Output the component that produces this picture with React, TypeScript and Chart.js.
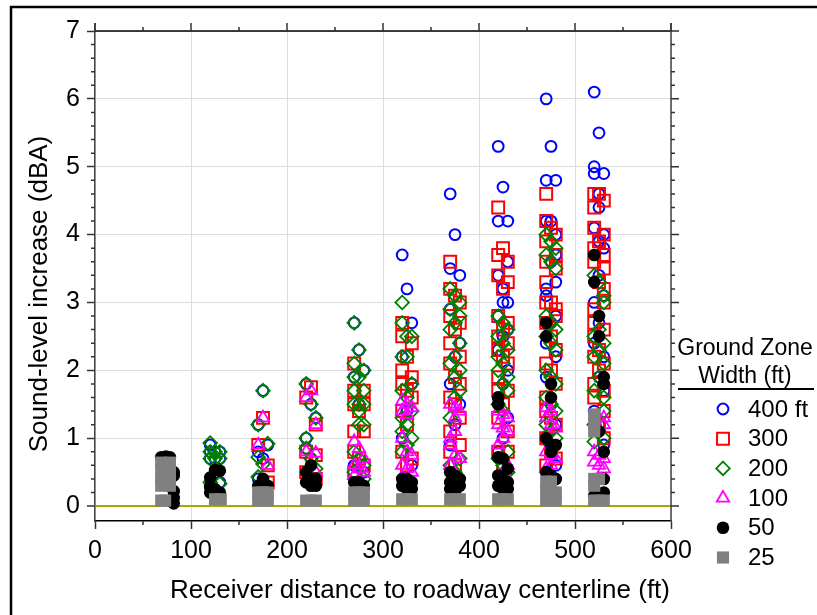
import { useEffect, useRef } from 'react';
import { Chart, registerables } from 'chart.js';

Chart.register(...registerables);

// ---------- data ----------
const xTicks = [0, 100, 200, 300, 400, 500, 600];
const yTicks = [0, 1, 2, 3, 4, 5, 6, 7];
const xMinorTicks = [50, 150, 250, 350, 450, 550];
const yMinorTicks = [
  0.2, 0.4, 0.6, 0.8, 1.2, 1.4, 1.6, 1.8, 2.2, 2.4, 2.6, 2.8, 3.2, 3.4, 3.6, 3.8,
  4.2, 4.4, 4.6, 4.8, 5.2, 5.4, 5.6, 5.8, 6.2, 6.4, 6.6, 6.8,
];

const xTitle = 'Receiver distance to roadway centerline (ft)';
const yTitle = 'Sound-level increase (dBA)';
const legendTitle = ['Ground Zone', 'Width (ft)'];
const seriesLabels = ['400 ft', '300', '200', '100', '50', '25'];

// [receiver distance (ft), sound-level increase (dBA)]
const zone400: [number, number][] = [
  [120, 0.9], [120, 0.8], [125, 0.8], [130, 0.8], [120, 0.7], [125, 0.7], [130, 0.7], [130, 0.35], [120, 0.3],
  [175, 1.7], [170, 1.2], [180, 0.9], [170, 0.8], [175, 0.7], [170, 0.4],
  [220, 1.8], [225, 1.5], [230, 1.3], [220, 1.0], [220, 0.85], [225, 0.7],
  [270, 2.7], [275, 2.3], [280, 2.0], [270, 1.9], [275, 1.5], [270, 0.6], [280, 0.5],
  [320, 3.7], [325, 3.2], [330, 2.7], [320, 2.2], [330, 1.8], [325, 1.4], [320, 1.0], [330, 0.6],
  [370, 4.6], [375, 4.0], [370, 3.5], [380, 3.4], [370, 2.9], [380, 2.4], [375, 2.2], [370, 1.8], [380, 1.5], [375, 1.2], [370, 0.9],
  [420, 5.3], [425, 4.7], [420, 4.2], [430, 4.2], [430, 3.6], [420, 3.4], [425, 3.2], [425, 3.0], [430, 3.0], [420, 2.8],
  [430, 2.6], [425, 2.5], [420, 2.3], [430, 2.0], [425, 1.8], [420, 1.6], [430, 1.3], [425, 1.0], [420, 0.8],
  [470, 6.0], [475, 5.3], [470, 4.8], [480, 4.8], [470, 4.2], [475, 4.2], [480, 4.0], [480, 3.7], [475, 3.6], [480, 3.3],
  [470, 3.2], [470, 3.1], [480, 2.8], [475, 2.7], [470, 2.4], [480, 2.2], [470, 1.9], [475, 1.5], [480, 1.2], [470, 1.0], [475, 0.8], [480, 0.6],
  [520, 6.1], [525, 5.5], [520, 5.0], [520, 4.9], [530, 4.9], [525, 4.6], [525, 4.4], [520, 4.1], [530, 4.0], [525, 3.9],
  [530, 3.8], [525, 3.4], [530, 3.1], [520, 3.0], [525, 2.7], [520, 2.4], [530, 2.2], [525, 1.9], [530, 1.7], [520, 1.4], [525, 1.2], [530, 0.9],
];

const zone300: [number, number][] = [
  [175, 1.3], [170, 0.9], [180, 0.6], [180, 0.35],
  [225, 1.75], [220, 1.6], [230, 1.2], [220, 0.8], [230, 0.75], [220, 0.5], [230, 0.4],
  [270, 2.1], [270, 1.7], [280, 1.7], [270, 1.5], [280, 1.5], [275, 1.4], [270, 1.1], [280, 1.1], [270, 0.8], [275, 0.7], [280, 0.6], [270, 0.5],
  [320, 2.7], [320, 2.5], [330, 2.4], [325, 2.2], [320, 2.0], [330, 1.9], [320, 1.8], [325, 1.7], [330, 1.6], [320, 1.4], [325, 1.2], [320, 0.8], [330, 0.7], [325, 0.6],
  [370, 3.6], [370, 3.2], [375, 3.1], [380, 3.0], [370, 2.8], [380, 2.7], [375, 2.6], [370, 2.4], [380, 2.2], [370, 2.1],
  [375, 1.9], [380, 1.8], [370, 1.6], [375, 1.5], [380, 1.3], [370, 1.1], [380, 0.9], [370, 0.8], [375, 0.6],
  [420, 4.4], [425, 3.8], [420, 3.7], [430, 3.6], [420, 3.4], [430, 3.3], [425, 3.2], [420, 2.8], [430, 2.7], [425, 2.6], [420, 2.5], [430, 2.4],
  [420, 2.3], [425, 2.2], [430, 2.1], [420, 1.9], [420, 1.7], [430, 1.7], [425, 1.5], [420, 1.3], [430, 1.1], [420, 0.8], [430, 0.8], [425, 0.6],
  [470, 4.6], [470, 4.2], [475, 4.1], [480, 4.0], [470, 3.9], [480, 3.7], [470, 3.6], [480, 3.5], [470, 3.3], [470, 3.0], [475, 3.0], [480, 2.9], [480, 2.8], [470, 2.7],
  [475, 2.5], [480, 2.3], [470, 2.1], [475, 2.0], [480, 1.8], [470, 1.6], [470, 1.4], [475, 1.3], [480, 1.2], [470, 1.0], [475, 0.8], [480, 0.7], [470, 0.6],
  [520, 4.6], [525, 4.6], [530, 4.5], [520, 4.4], [520, 4.1], [530, 4.0], [525, 3.9], [520, 3.8], [530, 3.7], [520, 3.6], [530, 3.5], [525, 3.3], [530, 3.2], [530, 3.0],
  [520, 2.9], [520, 2.7], [530, 2.6], [520, 2.5], [525, 2.3], [520, 2.2], [530, 2.1], [525, 2.0], [520, 1.8], [530, 1.7], [520, 1.6], [530, 1.4], [525, 1.2], [530, 1.0],
];

const zone200: [number, number][] = [
  [120, 0.93], [120, 0.8], [125, 0.8], [130, 0.8], [120, 0.7], [125, 0.7], [130, 0.7], [120, 0.35], [130, 0.33],
  [175, 1.7], [170, 1.2], [180, 0.92], [170, 0.72], [175, 0.62], [170, 0.43],
  [220, 1.8], [225, 1.5], [230, 1.3], [220, 1.0], [220, 0.85], [225, 0.7], [230, 0.55],
  [270, 2.7], [275, 2.3], [270, 2.1], [280, 2.0], [270, 1.9], [275, 1.9], [270, 1.7], [280, 1.7], [270, 1.5], [275, 1.5], [280, 1.5],
  [275, 1.4], [275, 1.2], [280, 1.2], [270, 0.8], [275, 0.7], [280, 0.6], [270, 0.5], [280, 0.4],
  [320, 3.0], [320, 2.7], [325, 2.5], [330, 2.5], [320, 2.2], [325, 2.2], [330, 1.8], [320, 1.7], [325, 1.6], [330, 1.4], [320, 1.3], [325, 1.2], [320, 1.1], [330, 1.0], [325, 0.9], [320, 0.8],
  [370, 3.2], [375, 3.1], [380, 3.0], [370, 2.9], [380, 2.8], [375, 2.7], [370, 2.6], [380, 2.4], [375, 2.2], [370, 2.1], [380, 2.0], [375, 1.9], [380, 1.7], [375, 1.6], [370, 1.3], [380, 0.7], [370, 0.6], [375, 0.5],
  [420, 2.8], [425, 2.7], [430, 2.6], [420, 2.5], [425, 2.4], [430, 2.3], [420, 2.2], [425, 2.1], [420, 2.0], [430, 1.9], [425, 1.8], [430, 1.7], [420, 1.5], [425, 1.4], [430, 0.8], [420, 0.7], [425, 0.6], [430, 0.5],
  [470, 4.0], [475, 3.9], [480, 3.8], [470, 3.7], [475, 3.6], [480, 3.5], [470, 2.8], [475, 2.7], [480, 2.6], [470, 2.5], [475, 2.4], [480, 2.3], [470, 2.0], [475, 1.9], [480, 1.8],
  [470, 1.6], [475, 1.5], [480, 1.4], [470, 1.2], [475, 1.1], [480, 1.0], [475, 0.9],
  [520, 3.4], [525, 3.3], [530, 3.1], [530, 3.0], [525, 2.6], [520, 2.5], [530, 2.4], [525, 2.3], [520, 2.2], [530, 2.1], [525, 1.9], [520, 1.7], [530, 1.6], [530, 1.4], [520, 1.2], [525, 1.1], [530, 1.0], [520, 0.95],
];

const zone100: [number, number][] = [
  [175, 1.3], [170, 0.9], [180, 0.6],
  [225, 1.7], [220, 1.6], [230, 1.2], [220, 0.8], [230, 0.78], [230, 0.5],
  [270, 0.95], [275, 0.85], [280, 0.7], [270, 0.6], [275, 0.55], [280, 0.5], [270, 0.45],
  [320, 1.55], [325, 1.5], [330, 1.45], [320, 1.4], [325, 1.35], [320, 1.0], [325, 0.8], [330, 0.75], [320, 0.6], [325, 0.55], [330, 0.5],
  [370, 1.5], [375, 1.45], [380, 1.4], [375, 1.3], [375, 1.1], [370, 1.0], [370, 0.9], [375, 0.75], [380, 0.7], [370, 0.6],
  [420, 1.4], [425, 1.35], [430, 1.3], [420, 1.2], [425, 1.15], [430, 1.1], [425, 1.0], [420, 0.9], [430, 0.6], [425, 0.5],
  [470, 1.45], [475, 1.4], [470, 1.3], [475, 1.2], [480, 1.15], [470, 0.8], [475, 0.75], [480, 0.7], [475, 0.6], [470, 0.55],
  [530, 1.3], [530, 1.2], [520, 0.8], [525, 0.75], [530, 0.7], [520, 0.65], [525, 0.6], [530, 0.55],
];

const zone50: [number, number][] = [
  [69, 0.72], [74, 0.73], [78, 0.72], [82, 0.5], [82, 0.45], [82, 0.22], [82, 0.12], [82, 0.04],
  [125, 0.53], [130, 0.52], [120, 0.42], [120, 0.28], [120, 0.2], [130, 0.2], [125, 0.25],
  [175, 0.4], [170, 0.3], [180, 0.3], [175, 0.32],
  [225, 0.6], [220, 0.5], [220, 0.35], [225, 0.3], [230, 0.3], [230, 0.4],
  [270, 0.35], [275, 0.35], [280, 0.3], [280, 0.25],
  [320, 0.4], [325, 0.4], [330, 0.35], [320, 0.3], [325, 0.25], [330, 0.25],
  [370, 0.5], [375, 0.45], [380, 0.4], [370, 0.35], [375, 0.3], [380, 0.3], [370, 0.25], [375, 0.2],
  [420, 1.6], [420, 1.5], [420, 0.72], [425, 0.7], [430, 0.55], [420, 0.45], [425, 0.4], [430, 0.35], [420, 0.3], [425, 0.25], [430, 0.25],
  [470, 2.7], [470, 2.5], [475, 1.8], [475, 1.6], [470, 1.0], [475, 0.9], [480, 0.9], [475, 0.8], [470, 0.5], [475, 0.45], [480, 0.4],
  [520, 3.7], [520, 3.3], [525, 2.8], [525, 2.5], [530, 1.9], [530, 1.8], [525, 1.1], [530, 0.8], [520, 0.15], [525, 0.15], [530, 0.2], [530, 0.4],
];

const zone25: [number, number][] = [
  [69, 0.64], [78, 0.64], [69, 0.52], [78, 0.52], [69, 0.4], [78, 0.4], [69, 0.3], [78, 0.3], [69, 0.08], [73, 0.08],
  [125, 0.1], [131, 0.1],
  [170, 0.2], [175, 0.2], [180, 0.2], [170, 0.08], [175, 0.08], [180, 0.08],
  [220, 0.08], [225, 0.08], [230, 0.08],
  [270, 0.2], [275, 0.2], [280, 0.2], [270, 0.08], [275, 0.08], [280, 0.08],
  [320, 0.1], [325, 0.1], [330, 0.1],
  [370, 0.1], [375, 0.1], [380, 0.1],
  [420, 0.1], [425, 0.1], [430, 0.1],
  [470, 0.36], [475, 0.36], [470, 0.22], [475, 0.22], [480, 0.2], [470, 0.08], [475, 0.08], [480, 0.08],
  [520, 1.35], [520, 1.22], [520, 1.1], [520, 0.4], [525, 0.4], [520, 0.3], [520, 0.08], [525, 0.08], [530, 0.08],
];

const seriesData = [zone400, zone300, zone200, zone100, zone50, zone25];

// ---------- styles ----------
const FONT = '"Liberation Sans", Arial, Helvetica, sans-serif';
type Sty = { shape: string; radius: number; stroke: string; fill: string; width: number };
const seriesStyles: Sty[] = [
  { shape: 'circle', radius: 5.4, stroke: '#0000ff', fill: 'rgba(0,0,0,0)', width: 2 },
  { shape: 'rect', radius: 8.4, stroke: '#ff0000', fill: 'rgba(0,0,0,0)', width: 2 },
  { shape: 'rectRot', radius: 6.8, stroke: '#008000', fill: 'rgba(0,0,0,0)', width: 1.8 },
  { shape: 'triangle', radius: 7.2, stroke: '#ff00ff', fill: 'rgba(0,0,0,0)', width: 1.8 },
  { shape: 'circle', radius: 6.3, stroke: '#000000', fill: '#000000', width: 0 },
  { shape: 'rect', radius: 8.6, stroke: '#808080', fill: '#808080', width: 0 },
];

function drawMarker(ctx: CanvasRenderingContext2D, s: Sty, x: number, y: number) {
  const r = s.radius;
  ctx.beginPath();
  if (s.shape === 'circle') {
    ctx.arc(x, y, r, 0, Math.PI * 2);
  } else if (s.shape === 'rect') {
    const h = r * Math.SQRT1_2;
    ctx.rect(x - h, y - h, 2 * h, 2 * h);
  } else if (s.shape === 'rectRot') {
    ctx.moveTo(x, y - r);
    ctx.lineTo(x + r, y);
    ctx.lineTo(x, y + r);
    ctx.lineTo(x - r, y);
    ctx.closePath();
  } else if (s.shape === 'triangle') {
    let a = 0;
    ctx.moveTo(x + Math.sin(a) * r, y - Math.cos(a) * r);
    a += (2 * Math.PI) / 3;
    ctx.lineTo(x + Math.sin(a) * r, y - Math.cos(a) * r);
    a += (2 * Math.PI) / 3;
    ctx.lineTo(x + Math.sin(a) * r, y - Math.cos(a) * r);
    ctx.closePath();
  }
  ctx.fillStyle = s.fill;
  ctx.fill();
  if (s.width > 0) {
    ctx.strokeStyle = s.stroke;
    ctx.lineWidth = s.width;
    ctx.stroke();
  }
}

const framePlugin = {
  id: 'frame',
  afterDraw(chart: any) {
    const { ctx, chartArea: a, scales } = chart;
    const xs = scales.x;
    const ys = scales.y;
    ctx.save();

    // figure border
    ctx.strokeStyle = '#000';
    ctx.lineWidth = 2.5;
    ctx.beginPath();
    ctx.moveTo(11, 615);
    ctx.lineTo(11, 7);
    ctx.lineTo(817, 7);
    ctx.stroke();

    // top & right axis lines
    ctx.lineWidth = 1.5;
    ctx.strokeStyle = '#000';
    ctx.beginPath();
    ctx.moveTo(a.left, a.top);
    ctx.lineTo(a.right, a.top);
    ctx.stroke();
    ctx.strokeStyle = '#444';
    ctx.beginPath();
    ctx.moveTo(a.right, a.top - 8);
    ctx.lineTo(a.right, a.bottom);
    ctx.moveTo(a.left, a.top - 8);
    ctx.lineTo(a.left, a.top);
    ctx.stroke();

    // x ticks (top major/minor, bottom minor)
    ctx.lineWidth = 1.5;
    ctx.strokeStyle = '#333';
    ctx.beginPath();
    xTicks.forEach((v) => {
      const p = xs.getPixelForValue(v);
      ctx.moveTo(p, a.top);
      ctx.lineTo(p, a.top - 8);
    });
    xMinorTicks.forEach((v) => {
      const p = xs.getPixelForValue(v);
      ctx.moveTo(p, a.top);
      ctx.lineTo(p, a.top - 4);
      ctx.moveTo(p, a.bottom);
      ctx.lineTo(p, a.bottom + 4);
    });
    // y ticks (right major, left/right minor)
    yTicks.forEach((v) => {
      const p = ys.getPixelForValue(v);
      ctx.moveTo(a.right, p);
      ctx.lineTo(a.right + 8, p);
    });
    yMinorTicks.forEach((v) => {
      const p = ys.getPixelForValue(v);
      ctx.moveTo(a.left, p);
      ctx.lineTo(a.left - 4, p);
      ctx.moveTo(a.right, p);
      ctx.lineTo(a.right + 4, p);
    });
    ctx.stroke();

    // axis titles
    ctx.fillStyle = '#000';
    ctx.font = `26px ${FONT}`;
    ctx.textAlign = 'center';
    ctx.textBaseline = 'middle';
    ctx.fillText(xTitle, 420, 591);
    ctx.save();
    ctx.translate(40, 294);
    ctx.rotate(-Math.PI / 2);
    ctx.fillText(yTitle, 0, 0);
    ctx.restore();

    // legend
    const lx = 745;
    ctx.font = `23px ${FONT}`;
    ctx.textAlign = 'center';
    ctx.fillText(legendTitle[0], lx, 349);
    ctx.fillText(legendTitle[1], lx, 377);
    ctx.strokeStyle = '#000';
    ctx.lineWidth = 2;
    ctx.beginPath();
    ctx.moveTo(678, 389);
    ctx.lineTo(814, 389);
    ctx.stroke();
    ctx.font = `24px ${FONT}`;
    ctx.textAlign = 'left';
    seriesLabels.forEach((lab, i) => {
      const yy = 409 + i * 29.7;
      drawMarker(ctx, seriesStyles[i], 723, yy);
      ctx.fillStyle = '#000';
      ctx.fillText(lab, 748, yy + 1);
    });

    ctx.restore();
  },
};

export default function App() {
  const ref = useRef<HTMLCanvasElement>(null);

  useEffect(() => {
    if (!ref.current) return;
    const n = seriesData.length;
    const chart = new Chart(ref.current, {
      type: 'scatter',
      data: {
        datasets: seriesData.map((d, i) => ({
          label: seriesLabels[i],
          data: d.map(([x, y]) => ({ x, y })),
          pointStyle: seriesStyles[i].shape as any,
          pointRadius: seriesStyles[i].radius,
          pointHoverRadius: seriesStyles[i].radius,
          pointBorderColor: seriesStyles[i].stroke,
          pointBackgroundColor: seriesStyles[i].fill,
          pointBorderWidth: seriesStyles[i].width,
          order: n - i,
        })),
      },
      options: {
        animation: false,
        responsive: false,
        events: [],
        layout: { padding: { top: 31, right: 146, left: 0, bottom: 0 } },
        plugins: { legend: { display: false }, tooltip: { enabled: false } },
        scales: {
          x: {
            type: 'linear',
            min: 0,
            max: 600,
            afterBuildTicks: (s: any) => {
              s.ticks = xTicks.map((v) => ({ value: v }));
            },
            afterFit: (s: any) => {
              s.height = 94;
            },
            grid: {
              color: '#dcdcdc',
              lineWidth: 1,
              tickLength: 8,
              tickColor: '#333',
              tickWidth: 1.5,
            },
            border: { color: '#000', width: 1.5 },
            ticks: { font: { family: FONT, size: 25 }, color: '#000', padding: 7, maxRotation: 0 },
          },
          y: {
            type: 'linear',
            min: -0.22,
            max: 7,
            afterBuildTicks: (s: any) => {
              s.ticks = yTicks.map((v) => ({ value: v }));
            },
            afterFit: (s: any) => {
              s.width = 95;
            },
            grid: {
              color: (c: any) => (c.tick && c.tick.value === 0 ? '#a8a800' : '#dcdcdc'),
              lineWidth: (c: any) => (c.tick && c.tick.value === 0 ? 2 : 1),
              tickLength: 8,
              tickColor: '#333',
              tickWidth: 1.5,
            },
            border: { color: '#444', width: 1.5 },
            ticks: { font: { family: FONT, size: 25 }, color: '#000', padding: 7 },
          },
        },
      },
      plugins: [framePlugin],
    });
    return () => chart.destroy();
  }, []);

  return (
    <div style={{ position: 'absolute', left: 0, top: 0, width: 817, height: 615, background: '#fff' }}>
      <canvas ref={ref} width={817} height={615} style={{ display: 'block', width: 817, height: 615 }} />
    </div>
  );
}
